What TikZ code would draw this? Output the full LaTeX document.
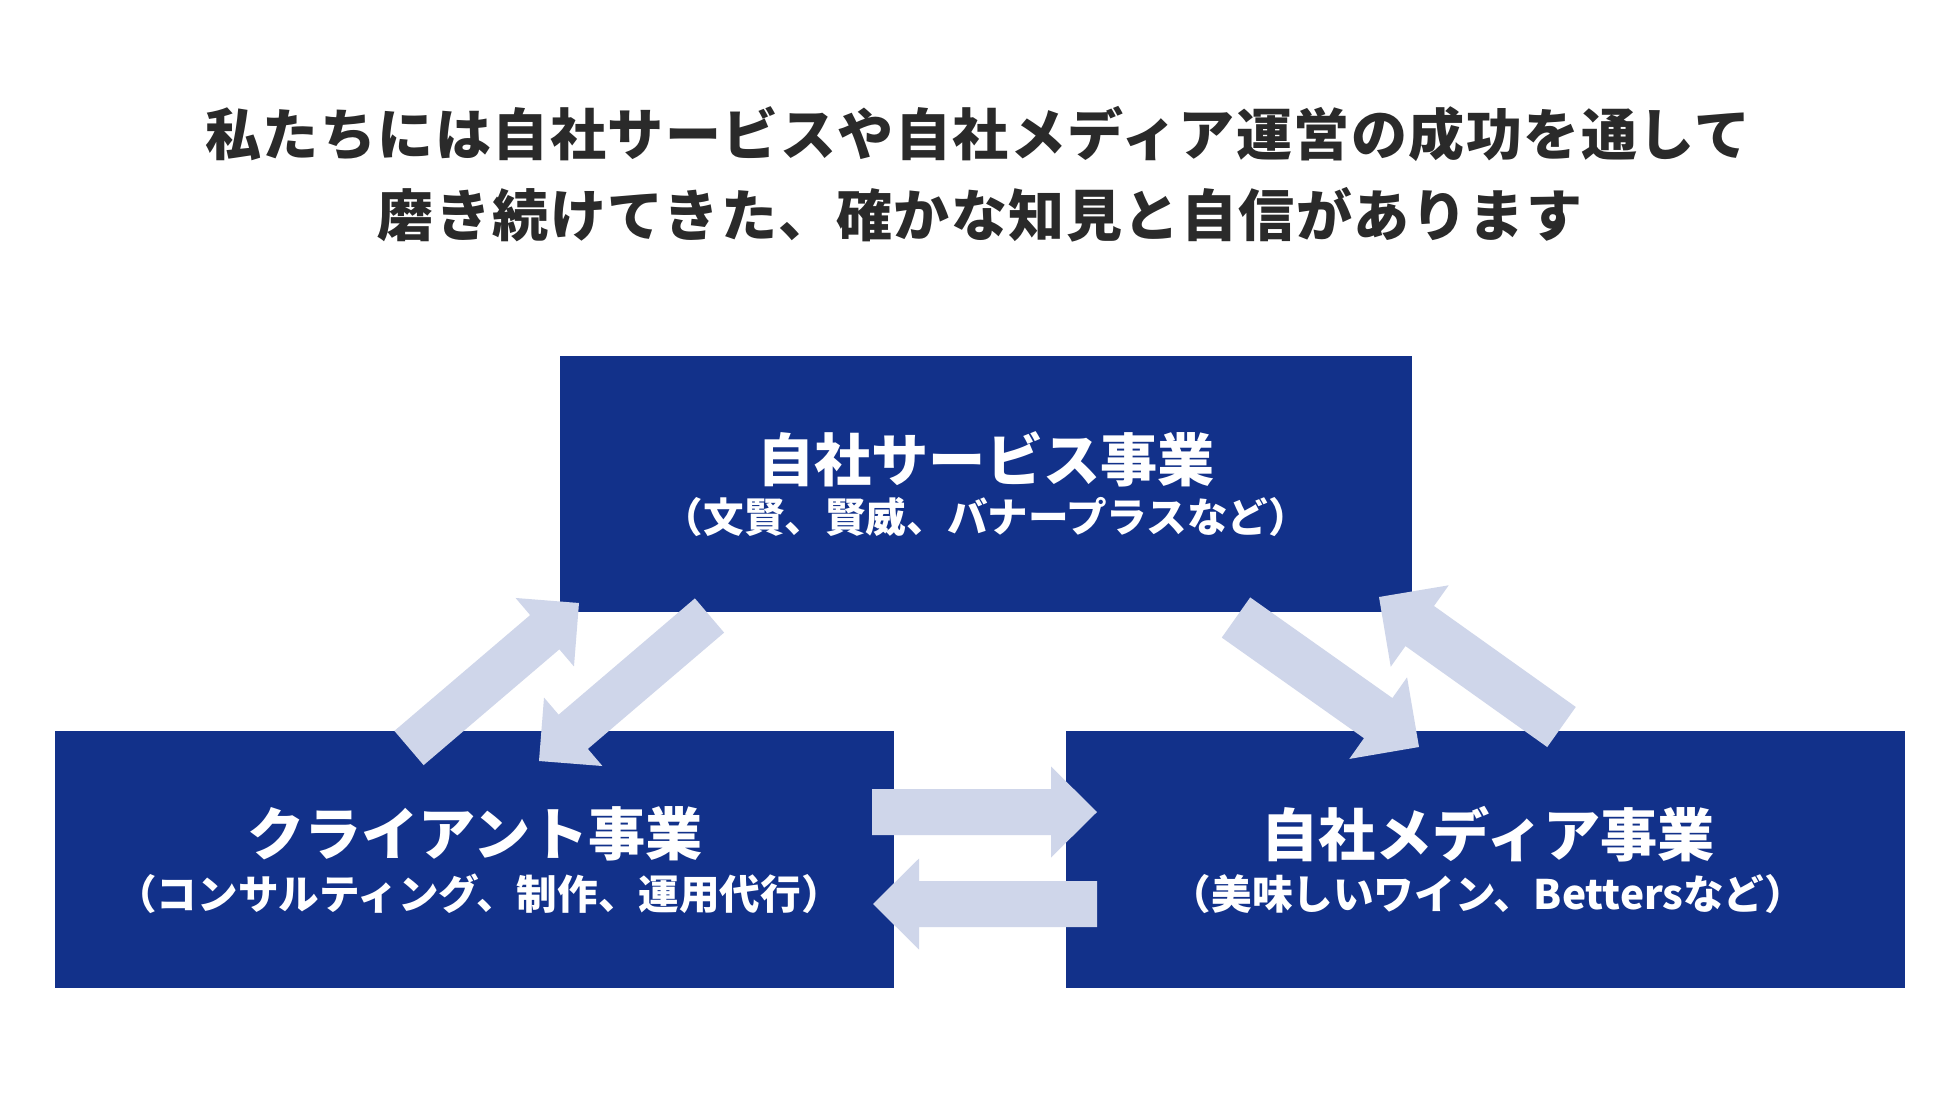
\documentclass[tikz,border=0pt]{standalone}
\usepackage{fontspec}
\newfontfamily\jp{Noto Sans CJK JP}
\usetikzlibrary{calc}
\definecolor{navy}{HTML}{12318A}
\definecolor{pale}{HTML}{CFD6EA}
\definecolor{ink}{HTML}{2A2A2A}
\newcommand\barrow[5]{%
  \coordinate (ba-b) at ($(#2)!#5!(#1)$);
  \fill[pale] ($(#1)!#3!90:(#2)$) -- ($(ba-b)!#3!90:(#2)$) -- ($(ba-b)!#4!90:(#2)$) -- (#2)
    -- ($(ba-b)!#4!-90:(#2)$) -- ($(ba-b)!#3!-90:(#2)$) -- ($(#1)!#3!-90:(#2)$) -- cycle;}
\begin{document}
\begin{tikzpicture}[x=0.5pt,y=-0.5pt,
  box/.style={fill=navy,draw=none,inner sep=0pt},
  title/.style={font=\jp\bfseries\fontsize{28pt}{34pt}\selectfont\addfontfeatures{LetterSpace=2.7},text=ink,inner sep=0pt},
  mainlab/.style={font=\jp\bfseries\fontsize{28.6pt}{34pt}\selectfont,text=white,inner sep=0pt},
  sublab/.style={font=\jp\bfseries\fontsize{20.3pt}{24pt}\selectfont,text=white,inner sep=0pt}]
\useasboundingbox[fill=white] (0,0) rectangle (1960,1102);
\node[title] (t1) at (978,134) {私たちには自社サービスや自社メディア運営の成功を通して};
\node[title] (t2) at (980,215) {磨き続けてきた、確かな知見と自信があります};
\node[box,minimum width=426pt,minimum height=128pt] (top) at (986,484) {};
\node[box,minimum width=419.5pt,minimum height=128.5pt] (left) at (474.5,859.5) {};
\node[box,minimum width=419.5pt,minimum height=128.5pt] (right) at (1485.5,859.5) {};
\node[mainlab] (topm) at (986,459) {自社サービス事業};
\node[sublab] (tops) at (986,517) {（文賢、賢威、バナープラスなど）};
\node[mainlab] (leftm) at (475,834) {クライアント事業};
\node[sublab] (lefts) at (479,894) {（コンサルティング、制作、運用代行）};
\node[mainlab] (rightm) at (1488,834) {自社メディア事業};
\node[sublab] (rights) at (1488,894) {（美味しいワイン、Bettersなど）};
\coordinate (aT) at (409,748); \coordinate (aP) at (579,603);
\coordinate (bT) at (709.5,615.5); \coordinate (bP) at (539,761);
\coordinate (cT) at (1236,617.5); \coordinate (cP) at (1419,747);
\coordinate (dT) at (1561.5,727); \coordinate (dP) at (1379,597);
\coordinate (eT) at (872,812); \coordinate (eP) at (1097,812);
\coordinate (fT) at (1097,904); \coordinate (fP) at (873,904);
\barrow{aT}{aP}{11.25pt}{22.5pt}{22.5pt}
\barrow{bT}{bP}{11.25pt}{22.5pt}{22.5pt}
\barrow{cT}{cP}{12.3pt}{25pt}{25pt}
\barrow{dT}{dP}{12.3pt}{25pt}{25pt}
\barrow{eT}{eP}{11.5pt}{22.75pt}{23pt}
\barrow{fT}{fP}{11.5pt}{22.75pt}{23pt}
\end{tikzpicture}
\end{document}
